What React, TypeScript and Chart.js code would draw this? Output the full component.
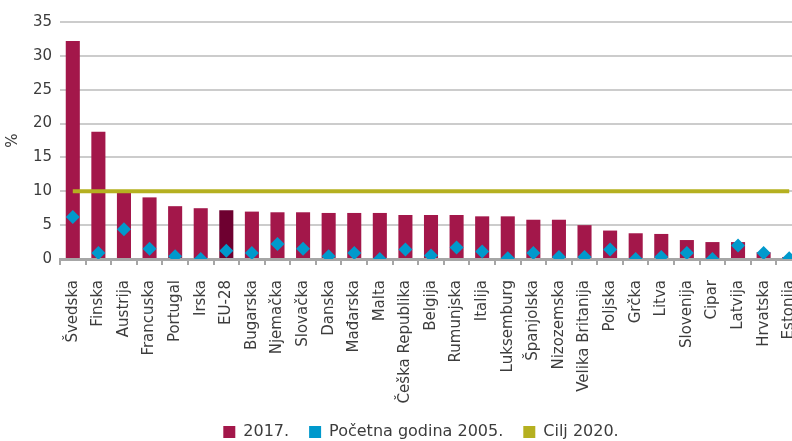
import React, { useEffect, useRef } from "react";
import { Chart, registerables } from "chart.js";

Chart.register(...registerables);

const categories = [
  "Švedska", "Finska", "Austrija", "Francuska", "Portugal", "Irska", "EU-28",
  "Bugarska", "Njemačka", "Slovačka", "Danska", "Mađarska", "Malta",
  "Češka Republika", "Belgija", "Rumunjska", "Italija", "Luksemburg",
  "Španjolska", "Nizozemska", "Velika Britanija", "Poljska", "Grčka", "Litva",
  "Slovenija", "Cipar", "Latvija", "Hrvatska", "Estonija",
];

const values2017 = [
  32.2, 18.8, 9.8, 9.1, 7.8, 7.5, 7.2, 7.0, 6.9, 6.9, 6.8, 6.8, 6.8,
  6.5, 6.5, 6.5, 6.3, 6.3, 5.8, 5.8, 5.0, 4.2, 3.8, 3.7, 2.8, 2.5, 2.5, 1.0, 0.3,
];

const baseline2005 = [
  6.2, 0.9, 4.4, 1.5, 0.4, 0.0, 1.2, 0.9, 2.2, 1.5, 0.4, 0.9, 0.0,
  1.4, 0.5, 1.7, 1.1, 0.1, 0.9, 0.3, 0.3, 1.4, 0.0, 0.3, 0.9, 0.0, 2.0, 0.9, 0.1,
];

const target2020 = [
  10, 10, 10, 10, 10, 10, 10, 10, 10, 10, 10, 10, 10, 10, 10,
  10, 10, 10, 10, 10, 10, 10, 10, 10, 10, 10, 10, 10, 10,
];

const yTicks = [0, 5, 10, 15, 20, 25, 30, 35];

const seriesNames = ["2017.", "Početna godina 2005.", "Cilj 2020."];

const BAR = "#a3174a";
const BAR_EU = "#6e0030";
const DIAMOND = "#0099cc";
const TARGET = "#b5b020";
const TEXT = "#3c3c3c";
const FONT = "'DejaVu Sans', sans-serif";

export default function App() {
  const ref = useRef<HTMLCanvasElement | null>(null);

  useEffect(() => {
    const canvas = ref.current;
    if (!canvas) return;
    const chart = new Chart(canvas, {
      type: "bar",
      data: {
        labels: categories,
        datasets: [
          {
            type: "line",
            label: seriesNames[1],
            data: baseline2005,
            showLine: false,
            pointStyle: "rectRot",
            pointRadius: 7,
            pointHoverRadius: 7,
            pointBackgroundColor: DIAMOND,
            pointBorderWidth: 0,
            backgroundColor: DIAMOND,
            borderColor: DIAMOND,
            order: 1,
          } as any,
          {
            type: "line",
            label: seriesNames[2],
            data: target2020,
            borderColor: TARGET,
            backgroundColor: TARGET,
            borderWidth: 4,
            pointRadius: 0,
            fill: false,
            order: 2,
          } as any,
          {
            type: "bar",
            label: seriesNames[0],
            data: values2017,
            backgroundColor: categories.map((c) => (c === "EU-28" ? BAR_EU : BAR)),
            barPercentage: 0.55,
            categoryPercentage: 1,
            order: 3,
          } as any,
        ],
      },
      options: {
        responsive: false,
        animation: false,
        devicePixelRatio: 1,
        layout: { padding: { top: 22, right: 0, left: 0, bottom: 0 } },
        plugins: {
          tooltip: { enabled: false },
          legend: {
            position: "bottom",
            labels: {
              font: { family: FONT, size: 16 },
              color: TEXT,
              boxWidth: 12,
              boxHeight: 12,
              padding: 20,
              generateLabels: () => [
                { text: seriesNames[0], fillStyle: BAR, strokeStyle: BAR, lineWidth: 0, hidden: false, datasetIndex: 2, fontColor: TEXT },
                { text: seriesNames[1], fillStyle: DIAMOND, strokeStyle: DIAMOND, lineWidth: 0, hidden: false, datasetIndex: 0, fontColor: TEXT },
                { text: seriesNames[2], fillStyle: TARGET, strokeStyle: TARGET, lineWidth: 0, hidden: false, datasetIndex: 1, fontColor: TEXT },
              ] as any,
            },
          },
        },
        scales: {
          x: {
            offset: true,
            grid: {
              display: true,
              drawOnChartArea: false,
              drawTicks: true,
              tickLength: 6,
              color: "#a6a6a6",
              lineWidth: 2,
              offset: true,
            },
            border: { display: true, color: "#a6a6a6", width: 3 },
            ticks: {
              autoSkip: false,
              maxRotation: 90,
              minRotation: 90,
              padding: 15,
              color: TEXT,
              font: { family: FONT, size: 15 },
            },
            afterFit: (scale: any) => {
              scale.height = 145;
            },
          },
          y: {
            min: 0,
            max: 35,
            afterBuildTicks: (scale: any) => {
              scale.ticks = yTicks.map((v) => ({ value: v }));
            },
            grid: { color: "#cccccc", lineWidth: 2, drawTicks: false },
            border: { display: false },
            ticks: {
              padding: 8,
              color: TEXT,
              font: { family: FONT, size: 15 },
            },
            title: {
              display: true,
              text: "%",
              color: TEXT,
              font: { family: FONT, size: 15 },
              padding: { top: 4, bottom: 0 },
            },
            afterFit: (scale: any) => {
              scale.width = 60;
            },
          },
          spacer: {
            type: "linear",
            position: "right",
            display: true,
            grid: { display: false, drawTicks: false },
            border: { display: false },
            ticks: { display: false },
            afterFit: (scale: any) => {
              scale.width = 40;
            },
          } as any,
        },
      },
    });
    return () => chart.destroy();
  }, []);

  return (
    <div style={{ position: "fixed", left: 0, top: 0, width: 792, height: 441, overflow: "hidden", background: "#fff" }}>
      <canvas ref={ref} width={842} height={450} style={{ width: 842, height: 450, display: "block" }} />
    </div>
  );
}
